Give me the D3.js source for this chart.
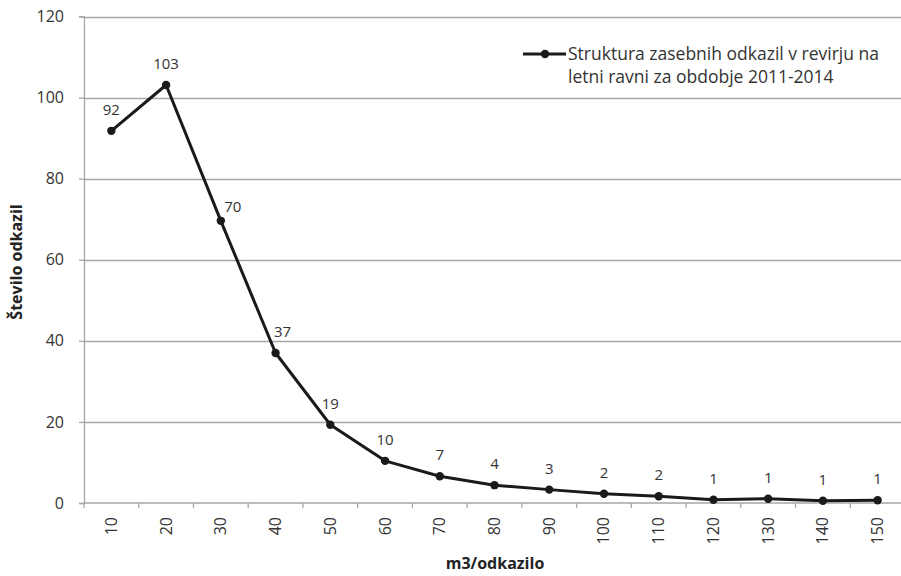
<!DOCTYPE html>
<html>
<head>
<meta charset="utf-8">
<script src="https://cdn.jsdelivr.net/npm/d3@7"></script>
<style>
  body { margin: 0; background: #fff; }
  svg { display: block; font-family: "Open Sans", "Liberation Sans", sans-serif; }
</style>
</head>
<body>
<div id="chart"></div>
<script>
var w = 901;
var h = 576;

// m3/odkazilo classes
var categories = ["10", "20", "30", "40", "50", "60", "70", "80", "90", "100", "110", "120", "130", "140", "150"];
// number of trees (labels are the rounded values)
var values = [91.8, 103.1, 69.6, 37.0, 19.3, 10.4, 6.6, 4.4, 3.3, 2.3, 1.65, 0.8, 1.06, 0.57, 0.66];
var yTicks = [0, 20, 40, 60, 80, 100, 120];
var seriesName = ["Struktura zasebnih odkazil v revirju na", "letni ravni za obdobje 2011-2014"];

var plotLeft = 84, plotRight = 905, plotTop = 16.5, plotBottom = 503;

var svg = d3.select("#chart").append("svg")
    .attr("width", w)
    .attr("height", h);

var x = d3.scaleBand().domain(categories).range([plotLeft, plotRight]).padding(0);
var y = d3.scaleLinear().domain([0, 120]).range([plotBottom, plotTop]);

function cx(c) { return x(c) + x.bandwidth() / 2; }

// gridlines
svg.append("g")
    .selectAll("line")
    .data(yTicks.filter(function(d){ return d > 0; }))
    .enter()
    .append("line")
    .attr("x1", plotLeft)
    .attr("x2", plotRight)
    .attr("y1", function(d){ return Math.round(y(d)) + 0.5; })
    .attr("y2", function(d){ return Math.round(y(d)) + 0.5; })
    .attr("stroke", "#a6a6a6")
    .attr("stroke-width", 1.3);

// y axis
var yAxis = svg.append("g")
    .attr("transform", "translate(" + plotLeft + ",0)")
    .call(d3.axisLeft(y).tickValues(yTicks).tickSize(5).tickPadding(15));
yAxis.selectAll("path, line").attr("stroke", "#a6a6a6").attr("stroke-width", 1.3);
yAxis.selectAll("text")
    .attr("font-size", "16px")
    .attr("font-family", "Open Sans, sans-serif")
    .attr("fill", "#333");

// x axis (ticks between categories)
var xAxis = svg.append("g").attr("transform", "translate(0," + plotBottom + ")");
xAxis.append("line")
    .attr("x1", plotLeft).attr("x2", plotRight)
    .attr("y1", 0).attr("y2", 0)
    .attr("stroke", "#a6a6a6").attr("stroke-width", 1.3);
xAxis.selectAll(".tk")
    .data(categories)
    .enter()
    .append("line")
    .attr("class", "tk")
    .attr("x1", function(d){ return x(d); })
    .attr("x2", function(d){ return x(d); })
    .attr("y1", 0).attr("y2", 5)
    .attr("stroke", "#a6a6a6").attr("stroke-width", 1.3);
xAxis.selectAll("text")
    .data(categories)
    .enter()
    .append("text")
    .text(function(d){ return d; })
    .attr("transform", function(d){ return "translate(" + (cx(d) + 5.5) + ",14) rotate(-90)"; })
    .attr("text-anchor", "end")
    .attr("font-size", "16px")
    .attr("fill", "#333");

// axis titles
svg.append("text")
    .text("Število odkazil")
    .attr("transform", "translate(22,262) rotate(-90)")
    .attr("text-anchor", "middle")
    .attr("font-size", "16px")
    .attr("font-weight", "bold")
    .attr("fill", "#222");

svg.append("text")
    .text("m3/odkazilo")
    .attr("x", 495)
    .attr("y", 569)
    .attr("text-anchor", "middle")
    .attr("font-size", "16px")
    .attr("font-weight", "bold")
    .attr("fill", "#222");

// line
var line = d3.line()
    .x(function(d, i){ return cx(categories[i]); })
    .y(function(d){ return y(d); });

svg.append("path")
    .datum(values)
    .attr("d", line)
    .attr("fill", "none")
    .attr("stroke", "#1a1a1a")
    .attr("stroke-width", 3)
    .attr("stroke-linejoin", "round");

svg.selectAll(".dot")
    .data(values)
    .enter()
    .append("circle")
    .attr("class", "dot")
    .attr("cx", function(d, i){ return cx(categories[i]); })
    .attr("cy", function(d){ return y(d); })
    .attr("r", 4.2)
    .attr("fill", "#1a1a1a");

// data labels: above the point, pushed right where the line is steep
function slope(i) {
    if (i <= 0 || i >= values.length) return 0;
    return (y(values[i]) - y(values[i - 1])) / x.bandwidth();
}
function labelShift(i) {
    var inS = slope(i), outS = slope(i + 1);
    if (inS > 2 && outS > 2) return [12, -9];
    if (inS > 2) return [7, -16];
    return [0, -16];
}

svg.selectAll(".lbl")
    .data(values)
    .enter()
    .append("text")
    .attr("class", "lbl")
    .text(function(d){ return d3.format(".0f")(d); })
    .attr("x", function(d, i){ return cx(categories[i]) + labelShift(i)[0]; })
    .attr("y", function(d, i){ return y(d) + labelShift(i)[1]; })
    .attr("text-anchor", "middle")
    .attr("font-size", "15px")
    .attr("fill", "#333");

// legend
var lg = svg.append("g");
lg.append("line")
    .attr("x1", 523).attr("x2", 566)
    .attr("y1", 54).attr("y2", 54)
    .attr("stroke", "#1a1a1a").attr("stroke-width", 3);
lg.append("circle")
    .attr("cx", 545).attr("cy", 54).attr("r", 4.2)
    .attr("fill", "#1a1a1a");
lg.selectAll("text")
    .data(seriesName)
    .enter()
    .append("text")
    .text(function(d){ return d; })
    .attr("x", 568)
    .attr("y", function(d, i){ return 60 + i * 23; })
    .attr("font-size", "17.5px")
    .attr("fill", "#333");
</script>
</body>
</html>
